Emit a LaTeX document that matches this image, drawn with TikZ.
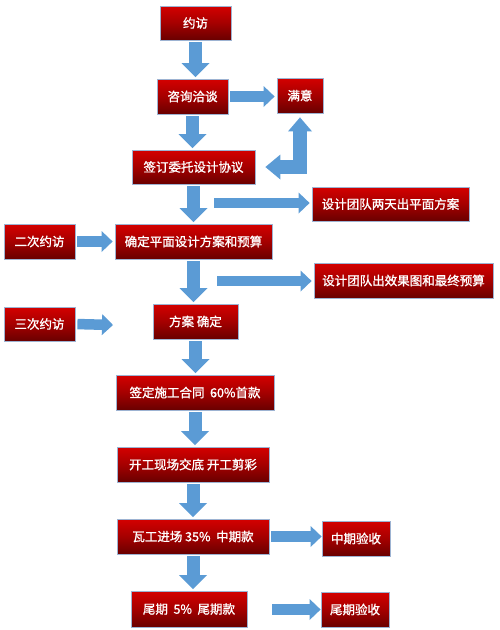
\documentclass[tikz,border=0pt]{standalone}
\usepackage{fontspec}
\setmainfont{Noto Sans CJK SC}[FakeBold=1.2]
\usetikzlibrary{arrows.meta}
\definecolor{boxtop}{RGB}{212,0,0}
\definecolor{boxmid}{RGB}{165,0,0}
\definecolor{boxbot}{RGB}{105,0,0}
\definecolor{boxline}{RGB}{157,179,210}
\definecolor{flowblue}{RGB}{91,155,213}
\begin{document}
\begin{tikzpicture}[x=1pt,y=-1pt,
  box/.style={draw=boxline, line width=0.8pt, top color=boxtop, bottom color=boxbot, middle color=boxmid,
    text=white, font=\fontsize{12.5}{14}\selectfont, inner sep=0pt},
  vflow/.style={draw=flowblue, line width=13pt, -{Triangle[width=28pt,length=14pt,line width=0pt]},
    shorten <=2pt, shorten >=1.5pt},
  hflow/.style={draw=flowblue, line width=10.5pt, -{Triangle[width=21pt,length=11pt,line width=0pt]},
    shorten <=2pt, shorten >=2pt},
  elbowflow/.style={draw=flowblue, line width=14pt, line join=miter,
    {Triangle[width=24pt,length=14pt,line width=0pt]}-{Triangle[width=25pt,length=15pt,line width=0pt]}}]
\useasboundingbox (0,0) rectangle (500,630);
\node [box, minimum width=71pt, minimum height=34pt] (yuefang) at (195.5,23) {约访};
\node [box, minimum width=71pt, minimum height=35pt] (zixun) at (192.5,96.5) {咨询洽谈};
\node [box, minimum width=46pt, minimum height=35pt] (manyi) at (300,95.5) {满意};
\node [box, minimum width=123pt, minimum height=34pt] (qianding) at (193.5,167) {签订委托设计协议};
\node [box, minimum width=157pt, minimum height=34pt] (liangtian) at (390.5,204) {设计团队两天出平面方案};
\node [box, minimum width=71pt, minimum height=35pt] (erci) at (39.5,241.5) {二次约访};
\node [box, minimum width=157pt, minimum height=35pt] (pingmian) at (193.5,241.5) {确定平面设计方案和预算};
\node [box, minimum width=179pt, minimum height=35pt] (xiaoguo) at (403.5,280.5) {设计团队出效果图和最终预算};
\node [box, minimum width=71pt, minimum height=34pt] (sanci) at (39.5,324) {三次约访};
\node [box, minimum width=85pt, minimum height=35pt] (fangan) at (195.5,321.5) {方案 确定};
\node [box, minimum width=158pt, minimum height=35pt] (shigong) at (195,392.5) {签定施工合同\ \ 60\%首款};
\node [box, minimum width=152pt, minimum height=35pt] (kaigong) at (193,464.5) {开工现场交底 开工剪彩};
\node [box, minimum width=152pt, minimum height=35pt] (wagong) at (193,536.5) {瓦工进场 35\%\ \ 中期款};
\node [box, minimum width=68pt, minimum height=35pt] (zhongqi) at (356,538.5) {中期验收};
\node [box, minimum width=116pt, minimum height=36pt] (weiqi) at (189,609) {尾期\ \ 5\%\ \ 尾期款};
\node [box, minimum width=68pt, minimum height=35pt] (weiqiys) at (355,609.5) {尾期验收};
\coordinate (liangtianstart) at (214,203);
\coordinate (xiaoguostart) at (217,281);
\coordinate (sanciend) at (113,325);
\coordinate (weiqistart) at (272,609.5);
\draw [vflow] (yuefang.south) -- (yuefang.south |- zixun.north);
\draw [vflow] (zixun.south) -- (zixun.south |- qianding.north);
\draw [vflow] (qianding.south) -- (qianding.south |- pingmian.north);
\draw [vflow] (pingmian.south) -- (pingmian.south |- fangan.north);
\draw [vflow] (fangan.south) -- (fangan.south |- shigong.north);
\draw [vflow] (shigong.south) -- (shigong.south |- kaigong.north);
\draw [vflow] (kaigong.south) -- (kaigong.south |- wagong.north);
\draw [vflow] (wagong.south) -- (wagong.south |- weiqi.north);
\draw [hflow] (zixun.east) -- (zixun.east -| manyi.west);
\draw [hflow, shorten <=0pt] (liangtianstart) -- (liangtianstart -| liangtian.west);
\draw [hflow] (erci.east) -- (erci.east -| pingmian.west);
\draw [hflow, shorten <=0pt] (xiaoguostart) -- (xiaoguostart -| xiaoguo.west);
\draw [hflow, shorten >=0pt] (sanci.east) -- (sanciend);
\draw [hflow, shorten >=0pt] (wagong.east) -- (wagong.east -| zhongqi.west);
\draw [hflow, shorten <=0pt, shorten >=0pt] (weiqistart) -- (weiqistart -| weiqiys.west);
\draw [elbowflow, shorten <=4pt, shorten >=10pt] (manyi.south) |- (qianding.east);
\end{tikzpicture}
\end{document}
